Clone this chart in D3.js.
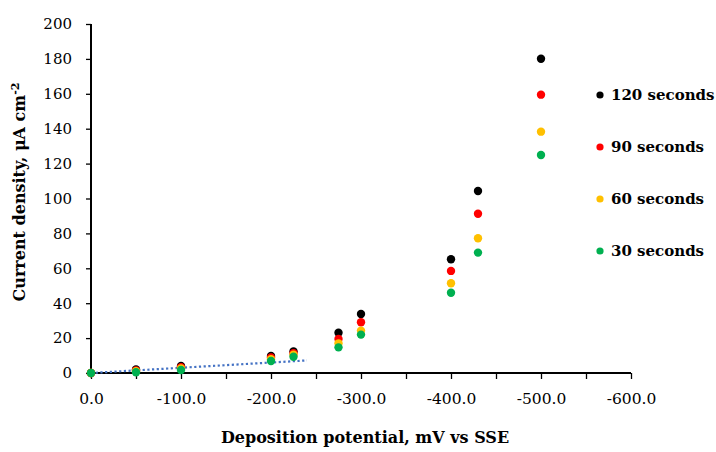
<!DOCTYPE html>
<html>
<head>
<meta charset="utf-8">
<script src="https://cdn.jsdelivr.net/npm/d3@7"></script>
<style>
  body { margin: 0; background: #fff; }
  text { font-family: "DejaVu Serif", serif; }
</style>
</head>
<body>
<div id="chart"></div>
<script>
// deposition potentials, mV vs SSE
const potentials = [0, -50, -100, -200, -225, -275, -300, -400, -430, -500]

// current density, uA cm-2, per deposition time
const s120 = [0, 2.0, 4.0, 9.7, 12.4, 23.1, 33.8, 65.2, 104.3, 180.1]
const s90 = [0, 1.5, 3.3, 8.9, 11.4, 19.5, 29.1, 58.5, 91.3, 159.5]
const s60 = [0, 1.0, 2.6, 7.9, 10.5, 17.0, 24.3, 51.4, 77.2, 138.3]
const s30 = [0, 0.4, 1.7, 6.9, 9.3, 14.7, 22.0, 46.0, 69.0, 124.9]

const seriesNames = ['120 seconds', '90 seconds', '60 seconds', '30 seconds']
const seriesValues = [s120, s90, s60, s30]
const seriesColors = ['#000000', '#ff0000', '#ffc000', '#00b050']

// linear trendline, start and end
const trendX = [0, -240]
const trendY = [0, 7.2]

const xTicks = [0, -100, -200, -300, -400, -500, -600]
const xMinorTicks = d3.range(0, -601, -50)
const yTicks = [0, 20, 40, 60, 80, 100, 120, 140, 160, 180, 200]

const W = 716, H = 452
const margin = { top: 24, right: 85, bottom: 79, left: 91 }
const width = W - margin.left - margin.right
const height = H - margin.top - margin.bottom

const xScale = d3.scaleLinear().domain([0, -600]).range([0, width])
const yScale = d3.scaleLinear().domain([0, 200]).range([height, 0])

const svg = d3.select('#chart').append('svg')
    .attr('width', W)
    .attr('height', H)

const g = svg.append('g')
    .attr('transform', `translate(${margin.left},${margin.top})`)

// x axis: minor ticks every 50, labels every 100
const xAxis = g.append('g')
    .attr('transform', `translate(0,${height})`)
    .call(d3.axisBottom(xScale).tickValues(xMinorTicks).tickSize(6))
xAxis.select('.domain').attr('stroke', '#000').attr('stroke-width', 2)
    .attr('d', `M0,0H${width}`)
xAxis.selectAll('.tick line').attr('stroke', '#000').attr('stroke-width', 1.3)
xAxis.selectAll('.tick text')
    .attr('dy', '1.45em')
    .attr('font-size', 15.5)
    .attr('fill', '#000')
    .text(d => xTicks.includes(d) ? d3.format('.1f')(d).replace('−', '-') : '')

// y axis
const yAxis = g.append('g')
    .call(d3.axisLeft(yScale).tickValues(yTicks).tickSize(5).tickPadding(14))
yAxis.select('.domain').attr('stroke', '#000').attr('stroke-width', 2)
    .attr('d', `M0,${height}V0`)
yAxis.selectAll('.tick line').attr('stroke', '#000').attr('stroke-width', 1.3)
yAxis.selectAll('.tick text')
    .attr('font-size', 15)
    .attr('fill', '#000')

// trendline
const trendLine = d3.line()
    .x((d, i) => xScale(trendX[i]))
    .y(d => yScale(d))
g.append('path')
    .datum(trendY)
    .attr('d', trendLine)
    .attr('fill', 'none')
    .attr('stroke', '#4472c4')
    .attr('stroke-width', 2.2)
    .attr('stroke-dasharray', '2.2,2.5')

// points, 120 s drawn first so 30 s sits on top
seriesValues.forEach((vals, si) => {
    g.selectAll(`.dot${si}`)
        .data(vals)
        .enter().append('circle')
        .attr('class', `dot${si}`)
        .attr('cx', (d, i) => xScale(potentials[i]))
        .attr('cy', d => yScale(d))
        .attr('r', 4.2)
        .attr('fill', seriesColors[si])
})

// legend
const legend = svg.selectAll('.legend')
    .data(seriesNames)
    .enter().append('g')
    .attr('class', 'legend')
    .attr('transform', (d, i) => `translate(600,${95 + i * 52})`)

legend.append('circle')
    .attr('r', 3.6)
    .attr('fill', (d, i) => seriesColors[i])

legend.append('text')
    .attr('x', 11)
    .attr('dy', '0.36em')
    .attr('font-size', 15)
    .attr('font-weight', 'bold')
    .attr('fill', '#000')
    .text(d => d)

// axis titles
svg.append('text')
    .attr('x', margin.left + width / 2 + 4)
    .attr('y', 443)
    .attr('text-anchor', 'middle')
    .attr('font-size', 16)
    .attr('font-weight', 'bold')
    .attr('fill', '#000')
    .text('Deposition potential, mV vs SSE')

const yTitle = svg.append('text')
    .attr('transform', 'translate(25,192) rotate(-90)')
    .attr('text-anchor', 'middle')
    .attr('font-size', 16)
    .attr('font-weight', 'bold')
    .attr('fill', '#000')
yTitle.append('tspan').text('Current density, μA cm')
yTitle.append('tspan').attr('dy', -6).attr('font-size', 11).text('-2')
</script>
</body>
</html>
